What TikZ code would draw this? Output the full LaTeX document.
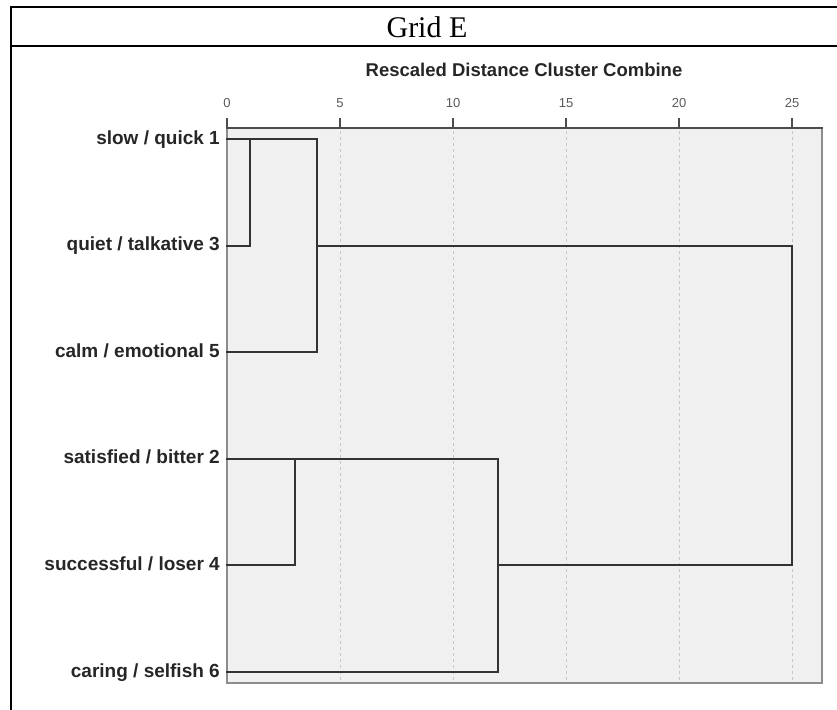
\documentclass[tikz,border=0pt]{standalone}
\usepackage{fontspec}
\setmainfont{Liberation Serif}
\setsansfont{Liberation Sans}
\usetikzlibrary{positioning}

\begin{document}
\begin{tikzpicture}[x=1pt, y=-1pt, line cap=rect]
    \tikzstyle{item} = [font=\sffamily\bfseries\fontsize{19}{19}\selectfont, text=black!85, inner sep=0pt, text height=14pt, text depth=4pt]
    \tikzstyle{tick} = [font=\sffamily\fontsize{13}{13}\selectfont, text=black!65, inner sep=0pt]
    \tikzstyle{link} = [draw=black!80, line width=2pt]
    \tikzstyle{frame} = [draw=black, line width=1.8pt]

    \useasboundingbox (0,0) rectangle (837,709);

    % table frame
    \draw[frame] (837,7) -- (11,7) -- (11,709);
    \draw[frame] (11,46) -- (837,46);
    \node[font=\fontsize{30}{30}\selectfont, inner sep=0pt] (title) at (427,27) {Grid E};

    % plot area
    \draw[draw=black!45, fill=black!6, line width=1.2pt] (227,128) rectangle (822,683);
    \node[font=\sffamily\bfseries\fontsize{18.5}{19}\selectfont, text=black!85, inner sep=0pt] (axis) at (524,70) {Rescaled Distance Cluster Combine};
    \foreach \d in {0,5,...,25} {
        \ifnum\d>0
            \draw[black!22, dashed, line width=0.8pt] ({227+22.6*\d},131) -- ({227+22.6*\d},681);
        \fi
        \draw[black!70, line width=1.2pt] ({227+22.6*\d},119) -- ({227+22.6*\d},128);
        \node[tick] (t\d) at ({227+22.6*\d},103) {\d};
    }
    \draw[black!70, line width=1.2pt] (227,128) -- (822,128);

    % leaves
    \coordinate (l1) at (227,139);
    \coordinate (l3) at (227,245.6);
    \coordinate (l5) at (227,352.2);
    \coordinate (l2) at (227,458.8);
    \coordinate (l4) at (227,565.4);
    \coordinate (l6) at (227,672);

    \node[item, left=7pt of l1] (n1) {slow / quick 1};
    \node[item, left=7pt of l3] (n3) {quiet / talkative 3};
    \node[item, left=7pt of l5] (n5) {calm / emotional 5};
    \node[item, left=7pt of l2] (n2) {satisfied / bitter 2};
    \node[item, left=7pt of l4] (n4) {successful / loser 4};
    \node[item, left=7pt of l6] (n6) {caring / selfish 6};

    % joins
    \coordinate (a1) at (249.6,139);
    \coordinate (a3) at (249.6,245.6);
    \coordinate (b1) at (317.4,139);
    \coordinate (b3) at (317.4,245.6);
    \coordinate (b5) at (317.4,352.2);
    \coordinate (e2) at (294.8,458.8);
    \coordinate (e4) at (294.8,565.4);
    \coordinate (d2) at (498.2,458.8);
    \coordinate (d4) at (498.2,565.4);
    \coordinate (d6) at (498.2,672);
    \coordinate (c3) at (792,245.6);
    \coordinate (c4) at (792,565.4);

    % Connections
    \draw[link] (l1) -- (b1) -- (b5) -- (l5);
    \draw[link] (a1) -- (a3) -- (l3);
    \draw[link] (l2) -- (d2) -- (d6) -- (l6);
    \draw[link] (e2) -- (e4) -- (l4);
    \draw[link] (b3) -- (c3) -- (c4) -- (d4);
\end{tikzpicture}
\end{document}
